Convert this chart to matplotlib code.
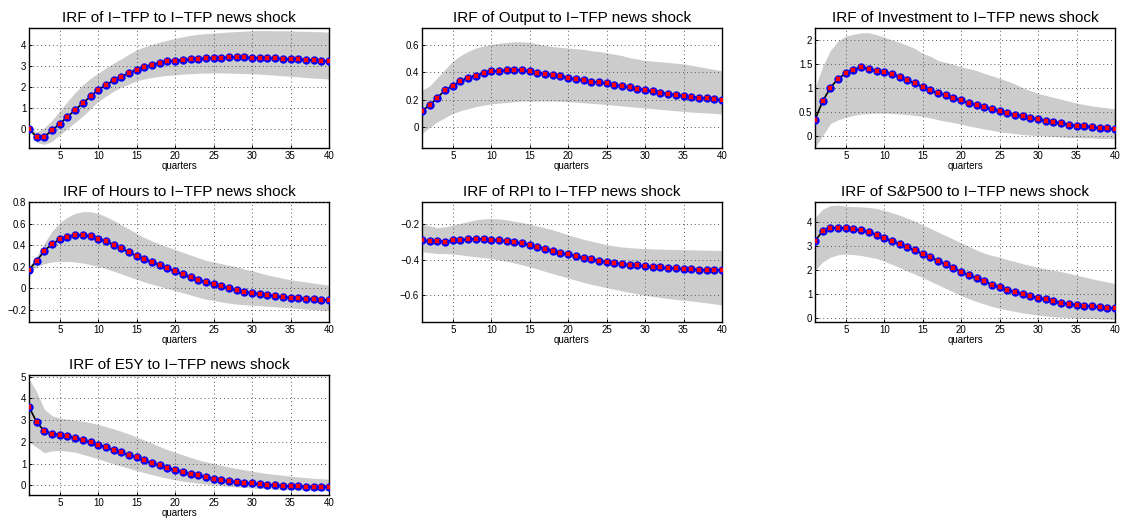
import matplotlib
matplotlib.use("Agg")
import matplotlib.pyplot as plt
import numpy as np

plt.rcParams['font.family'] = ['Liberation Sans', 'DejaVu Sans']

quarters = np.arange(1, 41)

# I-TFP
itfp_irf = [0, -0.4, -0.38, -0.08, 0.24, 0.56, 0.9, 1.22, 1.54, 1.86,
            2.08, 2.3, 2.48, 2.65, 2.81, 2.93, 3.05, 3.15, 3.22, 3.25,
            3.28, 3.31, 3.33, 3.35, 3.37, 3.38, 3.4, 3.41, 3.4, 3.39,
            3.38, 3.36, 3.35, 3.33, 3.32, 3.3, 3.29, 3.27, 3.24, 3.22]
itfp_hi = [0.05, -0.15, 0.05, 0.4, 0.85, 1.3, 1.72, 2.1, 2.4, 2.65,
           2.9, 3.12, 3.33, 3.55, 3.76, 3.9, 4.02, 4.13, 4.22, 4.3,
           4.38, 4.45, 4.5, 4.53, 4.56, 4.58, 4.61, 4.63, 4.65, 4.67,
           4.68, 4.68, 4.67, 4.67, 4.66, 4.65, 4.64, 4.63, 4.62, 4.6]
itfp_lo = [-0.05, -0.65, -0.75, -0.6, -0.3, 0.0, 0.3, 0.6, 0.95, 1.3,
           1.55, 1.78, 1.98, 2.13, 2.28, 2.37, 2.44, 2.5, 2.54, 2.57,
           2.6, 2.62, 2.64, 2.65, 2.66, 2.66, 2.65, 2.64, 2.63, 2.62,
           2.6, 2.58, 2.55, 2.52, 2.5, 2.47, 2.44, 2.41, 2.39, 2.37]

# Output
out_irf = [0.12, 0.16, 0.215, 0.27, 0.30, 0.335, 0.36, 0.375, 0.395, 0.405,
           0.41, 0.413, 0.415, 0.412, 0.405, 0.397, 0.39, 0.38, 0.37, 0.36,
           0.35, 0.34, 0.332, 0.325, 0.318, 0.308, 0.3, 0.29, 0.28, 0.27,
           0.26, 0.25, 0.243, 0.236, 0.228, 0.222, 0.215, 0.21, 0.204, 0.198]
out_hi = [0.27, 0.3, 0.36, 0.42, 0.48, 0.52, 0.55, 0.575, 0.59, 0.6,
          0.61, 0.615, 0.62, 0.62, 0.615, 0.605, 0.595, 0.585, 0.58, 0.575,
          0.57, 0.565, 0.555, 0.55, 0.54, 0.53, 0.52, 0.505, 0.495, 0.485,
          0.48, 0.475, 0.47, 0.465, 0.46, 0.45, 0.44, 0.43, 0.42, 0.41]
out_lo = [-0.045, 0.0, 0.04, 0.07, 0.1, 0.12, 0.135, 0.15, 0.16, 0.17,
          0.175, 0.18, 0.185, 0.19, 0.19, 0.19, 0.19, 0.19, 0.188, 0.185,
          0.182, 0.178, 0.174, 0.17, 0.165, 0.16, 0.155, 0.15, 0.145, 0.14,
          0.135, 0.13, 0.125, 0.12, 0.115, 0.11, 0.107, 0.104, 0.1, 0.097]

# Investment
inv_irf = [0.33, 0.72, 1.0, 1.19, 1.3, 1.38, 1.43, 1.39, 1.36, 1.32,
           1.29, 1.23, 1.16, 1.09, 1.02, 0.95, 0.89, 0.85, 0.79, 0.74,
           0.68, 0.64, 0.6, 0.56, 0.52, 0.48, 0.44, 0.41, 0.37, 0.34,
           0.31, 0.28, 0.26, 0.23, 0.21, 0.2, 0.18, 0.16, 0.15, 0.13]
inv_hi = [1.0, 1.45, 1.78, 1.98, 2.08, 2.12, 2.15, 2.15, 2.11, 2.06,
          2.0, 1.95, 1.89, 1.82, 1.72, 1.66, 1.57, 1.53, 1.49, 1.44,
          1.4, 1.36, 1.3, 1.25, 1.2, 1.14, 1.08, 1.0, 0.94, 0.88,
          0.84, 0.8, 0.76, 0.72, 0.68, 0.65, 0.62, 0.6, 0.58, 0.56]
inv_lo = [-0.25, 0.0, 0.25, 0.33, 0.38, 0.42, 0.45, 0.46, 0.47, 0.47,
          0.46, 0.45, 0.44, 0.42, 0.4, 0.37, 0.33, 0.3, 0.27, 0.24,
          0.2, 0.17, 0.14, 0.11, 0.08, 0.06, 0.04, 0.02, 0.01, 0.0,
          -0.01, -0.02, -0.03, -0.04, -0.04, -0.05, -0.05, -0.06, -0.06, -0.07]

# Hours
hrs_irf = [0.175, 0.255, 0.35, 0.41, 0.455, 0.48, 0.495, 0.495, 0.485, 0.46,
           0.435, 0.405, 0.37, 0.335, 0.3, 0.27, 0.245, 0.215, 0.185, 0.16,
           0.13, 0.105, 0.08, 0.06, 0.04, 0.02, 0.0, -0.015, -0.028, -0.04,
           -0.05, -0.062, -0.07, -0.078, -0.085, -0.09, -0.095, -0.1, -0.105, -0.11]
hrs_hi = [0.2, 0.3, 0.42, 0.53, 0.61, 0.66, 0.695, 0.71, 0.71, 0.695,
          0.665, 0.63, 0.59, 0.55, 0.51, 0.47, 0.44, 0.41, 0.385, 0.36,
          0.335, 0.31, 0.285, 0.26, 0.245, 0.23, 0.215, 0.2, 0.18, 0.165,
          0.145, 0.125, 0.11, 0.095, 0.08, 0.07, 0.06, 0.05, 0.04, 0.03]
hrs_lo = [0.15, 0.2, 0.23, 0.245, 0.25, 0.25, 0.245, 0.235, 0.22, 0.205,
          0.185, 0.16, 0.135, 0.11, 0.085, 0.06, 0.04, 0.02, 0.0, -0.02,
          -0.04, -0.06, -0.08, -0.1, -0.11, -0.125, -0.135, -0.145, -0.15, -0.155,
          -0.16, -0.165, -0.17, -0.175, -0.18, -0.185, -0.19, -0.195, -0.2, -0.205]

# RPI
rpi_irf = [-0.29, -0.295, -0.295, -0.298, -0.29, -0.288, -0.285, -0.283, -0.283, -0.286,
           -0.29, -0.294, -0.3, -0.308, -0.316, -0.326, -0.337, -0.348, -0.36, -0.37,
           -0.38, -0.39, -0.398, -0.406, -0.412, -0.418, -0.424, -0.428, -0.432, -0.436,
           -0.44, -0.443, -0.446, -0.449, -0.451, -0.453, -0.455, -0.456, -0.457, -0.458]
rpi_hi = [-0.2, -0.21, -0.22, -0.215, -0.205, -0.195, -0.185, -0.175, -0.17, -0.168,
          -0.17, -0.175, -0.183, -0.19, -0.2, -0.21, -0.22, -0.232, -0.245, -0.26,
          -0.272, -0.285, -0.295, -0.305, -0.315, -0.322, -0.328, -0.332, -0.335, -0.337,
          -0.339, -0.34, -0.341, -0.342, -0.343, -0.344, -0.345, -0.346, -0.347, -0.348]
rpi_lo = [-0.355, -0.36, -0.365, -0.365, -0.368, -0.372, -0.378, -0.383, -0.388, -0.393,
          -0.4, -0.408, -0.418, -0.428, -0.44, -0.452, -0.465, -0.478, -0.49, -0.502,
          -0.515, -0.527, -0.538, -0.548, -0.557, -0.566, -0.575, -0.584, -0.592, -0.6,
          -0.606, -0.612, -0.618, -0.623, -0.627, -0.632, -0.637, -0.642, -0.648, -0.655]

# S&P500
sp_irf = [3.22, 3.65, 3.75, 3.77, 3.76, 3.72, 3.67, 3.6, 3.49, 3.34,
          3.22, 3.1, 2.96, 2.84, 2.69, 2.55, 2.4, 2.26, 2.1, 1.94,
          1.8, 1.67, 1.54, 1.41, 1.3, 1.2, 1.1, 1.02, 0.94, 0.86,
          0.79, 0.72, 0.66, 0.61, 0.57, 0.53, 0.5, 0.47, 0.45, 0.43]
sp_hi = [4.2, 4.55, 4.7, 4.72, 4.68, 4.66, 4.65, 4.62, 4.58, 4.5,
         4.4, 4.3, 4.18, 4.05, 3.9, 3.75, 3.6, 3.45, 3.3, 3.15,
         3.0, 2.85, 2.72, 2.62, 2.55, 2.45, 2.37, 2.28, 2.2, 2.13,
         2.06, 2.0, 1.95, 1.88, 1.8, 1.73, 1.65, 1.58, 1.52, 1.45]
sp_lo = [2.0, 2.35, 2.55, 2.65, 2.68, 2.66, 2.62, 2.56, 2.5, 2.38,
         2.25, 2.12, 1.98, 1.84, 1.7, 1.55, 1.4, 1.25, 1.1, 0.95,
         0.82, 0.7, 0.6, 0.5, 0.42, 0.35, 0.29, 0.23, 0.18, 0.14,
         0.1, 0.07, 0.05, 0.03, 0.01, 0.0, -0.01, -0.02, -0.03, -0.04]

# E5Y
e5y_irf = [3.62, 2.9, 2.5, 2.38, 2.33, 2.26, 2.18, 2.09, 1.97, 1.87,
           1.75, 1.63, 1.51, 1.4, 1.28, 1.14, 1.02, 0.92, 0.81, 0.71,
           0.61, 0.52, 0.45, 0.37, 0.31, 0.25, 0.19, 0.15, 0.12, 0.08,
           0.05, 0.02, 0.0, -0.02, -0.04, -0.05, -0.06, -0.07, -0.08, -0.09]
e5y_hi = [4.9, 4.3, 3.5, 3.2, 3.1, 3.05, 3.0, 2.95, 2.88, 2.8,
          2.7, 2.6, 2.48, 2.36, 2.22, 2.08, 1.93, 1.78, 1.64, 1.52,
          1.4, 1.28, 1.17, 1.08, 1.0, 0.92, 0.84, 0.77, 0.71, 0.65,
          0.59, 0.54, 0.5, 0.46, 0.42, 0.38, 0.35, 0.32, 0.3, 0.28]
e5y_lo = [2.0, 1.75, 1.5, 1.58, 1.6, 1.57, 1.52, 1.42, 1.32, 1.22,
          1.1, 0.98, 0.88, 0.78, 0.68, 0.58, 0.49, 0.4, 0.32, 0.25,
          0.19, 0.14, 0.09, 0.05, 0.01, -0.02, -0.05, -0.08, -0.1, -0.13,
          -0.15, -0.17, -0.19, -0.2, -0.21, -0.22, -0.23, -0.24, -0.25, -0.25]

names = ["I\u2212TFP", "Output", "Investment", "Hours", "RPI", "S&P500", "E5Y"]
irfs = [itfp_irf, out_irf, inv_irf, hrs_irf, rpi_irf, sp_irf, e5y_irf]
his = [itfp_hi, out_hi, inv_hi, hrs_hi, rpi_hi, sp_hi, e5y_hi]
los = [itfp_lo, out_lo, inv_lo, hrs_lo, rpi_lo, sp_lo, e5y_lo]
ylims = [(-0.92, 4.8), (-0.15, 0.72), (-0.26, 2.25), (-0.31, 0.8),
         (-0.75, -0.075), (-0.15, 4.85), (-0.45, 5.08)]
yticks = [[0, 1, 2, 3, 4], [0, 0.2, 0.4, 0.6], [0, 0.5, 1, 1.5, 2],
          [-0.2, 0, 0.2, 0.4, 0.6, 0.8], [-0.6, -0.4, -0.2],
          [0, 1, 2, 3, 4], [0, 1, 2, 3, 4, 5]]

fig = plt.figure(figsize=(11.27, 5.23), dpi=100)
lefts = [29, 422, 815]
tops = [28, 202, 375]
W, H = 1127.0, 523.0

for i in range(7):
    r, c = divmod(i, 3)
    ax = fig.add_axes([lefts[c] / W, 1 - (tops[r] + 120) / H, 300 / W, 120 / H])
    ax.fill_between(quarters, los[i], his[i], color='#cccccc', lw=0, zorder=1)
    ax.plot(quarters, irfs[i], color='black', lw=1.2, zorder=2)
    ax.plot(quarters, irfs[i], 'o', color='blue', ms=6, mew=0, zorder=3)
    ax.plot(quarters, irfs[i], 'x', color='red', ms=3.5, mew=1.5, zorder=4)
    ax.set_xlim(1, 40)
    ax.set_ylim(*ylims[i])
    ax.set_xticks([5, 10, 15, 20, 25, 30, 35, 40])
    ax.set_yticks(yticks[i])
    ax.set_yticklabels([("%g" % t).replace("-", "\u2212") for t in yticks[i]])
    ax.grid(True, linestyle=(0, (1, 3)), color='#555555', lw=0.7)
    ax.set_axisbelow(False)
    ax.tick_params(direction='in', length=2.5, width=0.7, labelsize=7, pad=2)
    for s in ax.spines.values():
        s.set_linewidth(1.0)
    ax.set_xlabel("quarters", fontsize=7, labelpad=0)
    ax.set_title("IRF of %s to I\u2212TFP news shock" % names[i], fontsize=11, pad=4)

fig.savefig("out.png", dpi=100)
